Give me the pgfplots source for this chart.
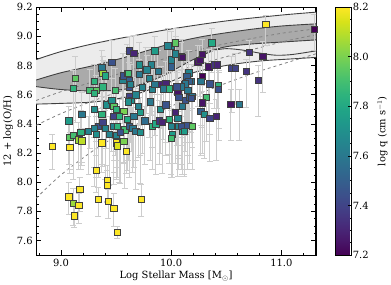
\documentclass[border=0pt]{standalone}
\usepackage{fontspec}
\setmainfont{DejaVu Serif}
\usepackage{pgfplots}
\usepackage{pgfplotstable}
\pgfplotsset{compat=1.18}
\usepgfplotslibrary{fillbetween}

\pgfplotstableread{
x y q ep em
9.13 8.71 7.95 0.15 0.30
9.11 8.645 7.85 0.12 0.35
9.26 8.63 7.90 0.14 0.40
9.30 8.69 7.85 0.12 0.30
9.32 8.63 7.95 0.10 0.35
9.38 8.655 7.85 0.18 0.25
9.49 8.63 7.90 0.15 0.45
9.30 8.61 7.85 0.10 0.30
9.30 8.50 7.70 0.12 0.40
9.19 8.465 7.60 0.15 0.35
9.07 8.42 7.75 0.10 0.30
9.37 8.465 7.85 0.12 0.40
9.41 8.53 7.70 0.20 0.30
9.46 8.56 7.70 0.15 0.35
9.48 8.52 7.95 0.10 0.45
9.48 8.45 7.40 0.12 0.30
9.50 8.50 7.85 0.15 0.40
9.57 8.485 8.00 0.10 0.35
9.53 8.45 7.85 0.12 0.45
9.56 8.70 7.65 0.18 0.30
9.57 8.73 7.45 0.15 0.35
9.60 8.745 7.65 0.20 0.40
9.62 8.70 7.50 0.12 0.30
9.61 8.745 7.90 0.15 0.45
9.62 8.65 7.45 0.10 0.35
9.63 8.67 7.65 0.14 0.40
9.62 8.59 7.40 0.12 0.30
9.64 8.56 7.70 0.15 0.35
9.61 8.55 7.70 0.10 0.40
9.68 8.60 7.65 0.12 0.45
9.71 8.805 7.70 0.15 0.30
9.62 8.90 7.40 0.10 0.35
9.66 8.885 7.30 0.12 0.40
9.77 8.77 7.65 0.15 0.35
9.80 8.71 7.65 0.12 0.40
9.85 8.90 7.75 0.10 0.30
9.88 8.76 7.60 0.14 0.35
9.74 8.65 7.65 0.12 0.45
9.83 8.635 7.65 0.15 0.40
9.85 8.67 7.60 0.10 0.35
9.91 8.67 7.30 0.12 0.30
9.95 8.675 7.30 0.15 0.40
9.98 8.64 7.85 0.12 0.45
9.93 8.64 7.60 0.10 0.35
10.00 8.79 7.50 0.15 0.40
10.00 8.84 7.65 0.12 0.35
10.00 8.935 7.65 0.10 0.30
10.04 8.955 7.95 0.10 0.35
10.04 8.88 7.65 0.12 0.40
10.09 8.86 7.25 0.10 0.30
10.06 8.615 7.25 0.15 0.45
10.10 8.65 7.60 0.12 0.40
10.12 8.67 7.60 0.10 0.35
10.15 8.63 7.60 0.14 0.45
10.10 8.52 7.60 0.12 0.40
10.13 8.56 7.45 0.10 0.35
10.17 8.58 7.50 0.15 0.45
10.04 8.48 7.30 0.12 0.35
10.06 8.44 7.65 0.10 0.40
10.18 8.69 7.60 0.12 0.35
10.16 8.75 7.65 0.15 0.40
9.37 8.785 7.60 0.12 0.35
9.46 8.82 7.45 0.15 0.40
9.38 8.745 8.05 0.12 0.30
9.40 8.73 7.80 0.10 0.35
9.34 8.385 7.45 0.12 0.35
9.38 8.41 7.40 0.10 0.30
9.30 8.37 7.65 0.14 0.40
9.40 8.37 7.65 0.12 0.35
9.48 8.385 7.65 0.10 0.40
9.51 8.385 7.85 0.15 0.35
9.58 8.36 7.90 0.12 0.40
9.62 8.385 7.50 0.10 0.35
9.65 8.37 7.60 0.14 0.30
9.68 8.35 7.60 0.12 0.40
9.72 8.34 7.70 0.10 0.35
9.32 8.33 7.70 0.12 0.30
9.18 8.34 7.85 0.15 0.25
9.08 8.31 7.95 0.12 0.25
9.11 8.32 7.90 0.10 0.30
9.16 8.29 8.05 0.12 0.20
9.25 8.35 7.65 0.10 0.30
9.44 8.33 7.65 0.12 0.35
9.50 8.32 7.65 0.10 0.30
9.54 8.34 7.45 0.12 0.35
9.83 8.385 7.85 0.10 0.30
9.86 8.40 7.80 0.12 0.35
9.89 8.42 7.35 0.14 0.30
9.92 8.41 7.30 0.12 0.35
9.98 8.43 7.85 0.10 0.30
10.00 8.385 7.65 0.12 0.35
10.01 8.33 7.75 0.10 0.30
10.00 8.30 7.90 0.12 0.25
10.07 8.385 7.65 0.10 0.30
10.12 8.39 7.55 0.12 0.35
10.10 8.35 7.80 0.10 0.30
9.66 8.45 7.60 0.12 0.35
9.72 8.48 7.75 0.10 0.30
9.60 8.43 7.80 0.12 0.35
9.76 8.42 7.55 0.10 0.30
9.70 8.52 7.65 0.12 0.35
9.90 8.50 7.70 0.10 0.30
9.95 8.53 7.45 0.12 0.35
9.81 8.55 7.60 0.10 0.40
8.92 8.245 8.2 0.08 0.16
9.08 8.24 8.2 0.10 0.15
9.19 8.285 8.1 0.08 0.15
9.37 8.27 8.2 0.10 0.15
9.50 8.27 8.2 0.08 0.12
9.51 8.25 8.15 0.10 0.15
9.59 8.21 8.2 0.08 0.15
9.32 8.08 8.2 0.10 0.15
9.07 7.90 8.2 0.10 0.12
9.17 7.95 8.2 0.08 0.15
9.34 7.885 8.2 0.08 0.12
9.42 8.015 8.2 0.10 0.15
9.42 7.98 8.2 0.10 0.12
9.43 7.87 8.2 0.08 0.12
9.11 7.855 8.05 0.10 0.15
9.16 7.84 8.2 0.08 0.12
9.12 7.77 8.2 0.10 0.08
9.48 7.82 8.2 0.10 0.12
9.51 7.655 8.2 0.04 0.04
9.73 7.885 8.2 0.10 0.12
9.57 8.28 8.0 0.10 0.15
10.86 9.08 8.2 0.06 0.14
11.30 9.05 7.2 0.10 0.15
10.37 8.955 7.80 0.10 0.20
10.71 8.89 7.35 0.08 0.15
10.83 8.865 7.25 0.10 0.25
10.10 8.855 7.25 0.12 0.30
10.28 8.875 7.25 0.10 0.25
10.24 8.82 7.25 0.12 0.30
10.26 8.835 7.25 0.10 0.25
10.34 8.79 7.25 0.12 0.35
10.39 8.805 7.35 0.10 0.30
10.42 8.805 7.30 0.12 0.30
10.55 8.78 7.40 0.08 0.30
10.58 8.78 7.40 0.10 0.25
10.68 8.76 7.35 0.08 0.25
10.79 8.70 7.35 0.10 0.25
10.28 8.725 7.20 0.12 0.35
10.27 8.69 7.60 0.10 0.30
10.35 8.675 7.45 0.12 0.35
10.43 8.665 7.85 0.10 0.30
10.43 8.635 7.45 0.12 0.35
10.14 8.725 7.50 0.10 0.40
10.16 8.69 7.50 0.12 0.35
10.13 8.675 7.60 0.10 0.40
10.09 8.655 7.60 0.12 0.35
10.05 8.655 7.45 0.10 0.40
10.19 8.59 7.60 0.12 0.35
10.18 8.575 7.45 0.10 0.30
10.07 8.58 7.45 0.12 0.40
10.32 8.58 7.90 0.10 0.30
10.28 8.545 7.25 0.12 0.35
10.27 8.485 7.50 0.10 0.30
10.30 8.465 7.70 0.12 0.30
10.35 8.44 7.40 0.10 0.30
10.41 8.45 7.30 0.12 0.30
10.54 8.535 7.25 0.10 0.25
10.62 8.535 7.60 0.10 0.25
10.09 8.385 7.45 0.12 0.30
10.15 8.39 7.45 0.10 0.30
10.19 8.385 7.95 0.12 0.30
10.12 8.35 7.75 0.10 0.30
9.97 8.935 7.65 0.12 0.30
9.71 8.74 7.60 0.10 0.35
9.82 8.805 7.65 0.12 0.35
9.78 8.77 7.65 0.10 0.30
}\data

\definecolor{bandlight}{RGB}{236,236,236}
\definecolor{banddark}{RGB}{170,170,170}
\definecolor{errgray}{RGB}{205,205,205}

\begin{document}
\begin{tikzpicture}
\begin{axis}[
  scale only axis,
  width=282pt, height=250pt,
  xmin=8.775, xmax=11.315, ymin=7.5, ymax=9.2,
  xtick={9,10,11}, xticklabels={9.0,10.0,11.0},
  minor xtick={8.8,9.2,9.4,9.6,9.8,10.2,10.4,10.6,10.8,11.2},
  ytick={7.6,7.8,8.0,8.2,8.4,8.6,8.8,9.0,9.2},
  yticklabels={7.6,7.8,8.0,8.2,8.4,8.6,8.8,9.0,9.2},
  minor y tick num=3,
  tick align=inside,
  xtick pos=both, ytick pos=both,
  xticklabel pos=lower, yticklabel pos=left,
  major tick length=5pt, minor tick length=2.5pt,
  every tick/.style={black, line width=0.6pt},
  axis line style={line width=1.1pt},
  /pgf/number format/assume math mode=true,
  xlabel={Log Stellar Mass [M$_\odot$]},
  ylabel={12 + log(O/H)},
  xlabel style={yshift=2pt},
  ylabel style={yshift=-3pt},
  colormap/viridis,
  point meta min=7.2, point meta max=8.2,
  colorbar,
  colorbar style={
    width=16pt,
    at={(parent axis.north east)}, anchor=north west, xshift=11pt,
    ytick={7.2,7.4,7.6,7.8,8.0,8.2},
    yticklabels={7.2,7.4,7.6,7.8,8.0,8.2},
    minor y tick num=3,
    tick align=inside,
    major tick length=3pt, minor tick length=1.5pt,
    ytick pos=right, yticklabel pos=right,
    yticklabel style={xshift=-2pt},
    ylabel={log q (cm s$^{-1}$)},
    ylabel style={yshift=-2pt},
    /pgf/number format/assume math mode=true,
    axis line style={line width=0.8pt},
  },
]
% band boundaries
\addplot[name path=OT, draw=black!75, line width=0.9pt, smooth] coordinates {
 (8.775,8.84) (9.0,8.895) (9.3,8.95) (9.6,8.995) (10.0,9.05) (10.5,9.105) (11.0,9.145) (11.315,9.165)};
\addplot[name path=DT, draw=black!75, line width=0.9pt, smooth] coordinates {
 (8.775,8.70) (9.0,8.75) (9.3,8.80) (9.6,8.86) (10.0,8.95) (10.3,9.0) (10.7,9.045) (11.0,9.07) (11.315,9.085)};
\addplot[name path=M, draw=black!75, line width=0.9pt, smooth] coordinates {
 (8.775,8.655) (9.0,8.635) (9.3,8.625) (9.6,8.64) (9.9,8.72) (10.2,8.84) (10.45,8.92) (10.7,8.945) (11.0,8.96) (11.315,8.975)};
\addplot[name path=LB, draw=black!75, line width=0.9pt, smooth] coordinates {
 (8.775,8.535) (9.0,8.54) (9.3,8.55) (9.6,8.585) (9.9,8.66) (10.2,8.75) (10.5,8.80) (10.8,8.83) (11.1,8.845) (11.315,8.855)};
\addplot[draw=black!75, line width=0.9pt, smooth] coordinates {
 (10.35,8.90) (10.5,8.915) (10.65,8.905) (10.8,8.885) (10.95,8.87) (11.1,8.875) (11.315,8.90)};
\addplot[bandlight] fill between[of=OT and LB];
\addplot[banddark] fill between[of=DT and M];
% dashed relations
\addplot[draw=black!50, dashed, line width=0.8pt, smooth] coordinates {
 (8.775,8.56) (9.0,8.62) (9.3,8.69) (9.6,8.76) (10.0,8.86) (10.5,8.95) (11.0,9.02) (11.315,9.05)};
\addplot[draw=black!50, dashed, line width=0.8pt, smooth] coordinates {
 (8.775,8.39) (9.0,8.47) (9.3,8.56) (9.6,8.64) (10.0,8.75) (10.5,8.86) (11.0,8.96) (11.315,9.01)};
\addplot[draw=black!50, dashed, line width=0.8pt, smooth] coordinates {
 (8.775,7.89) (9.0,8.05) (9.3,8.22) (9.6,8.36) (10.0,8.52) (10.4,8.65) (10.8,8.76) (11.315,8.88)};
% error bars
\addplot[only marks, mark=none, forget plot,
  error bars/.cd, y dir=both, y explicit,
  error bar style={color=errgray, line width=0.9pt},
  error mark options={rotate=90, color=errgray, mark size=3pt, line width=0.9pt}]
  table[x=x, y=y, y error plus=ep, y error minus=em] {\data};
% points
\addplot[scatter, only marks, mark=square*, mark size=3.2pt,
  scatter src=explicit,
  scatter/use mapped color={draw=black!75, fill=mapped color},
  mark options={line width=0.5pt}]
  table[x=x, y=y, meta=q] {\data};
\end{axis}
\end{tikzpicture}
\end{document}
